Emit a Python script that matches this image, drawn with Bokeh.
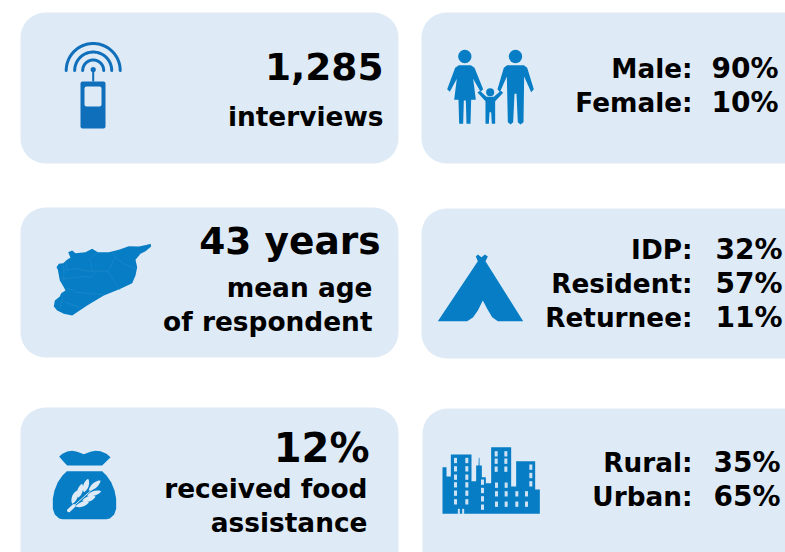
from bokeh.plotting import figure
from bokeh.embed import file_html
from bokeh.resources import INLINE
from bokeh.core.properties import value
from bokeh.models import Range1d
import numpy as np

# ---- content ----
HEADLINES = ["1,285", "43 years", "12%"]
SUBLINES = ["interviews", "mean age", "of respondent", "received food", "assistance"]
GENDER = ["Male:", "Female:"]; GENDER_PCT = ["90%", "10%"]
STATUS = ["IDP:", "Resident:", "Returnee:"]; STATUS_PCT = ["32%", "57%", "11%"]
AREA = ["Rural:", "Urban:"]; AREA_PCT = ["35%", "65%"]

PANEL = "#deeaf6"; BLUE = "#067dc4"; PHONE = "#0f6fbb"; FONT = "DejaVu Sans"; INK = "#000000"

p = figure(width=785, height=552, output_backend="svg", toolbar_location=None,
           x_range=Range1d(0, 785), y_range=Range1d(552, 0), min_border=0,
           background_fill_color="white", border_fill_color="white", outline_line_color=None)
p.xaxis.visible = False; p.yaxis.visible = False; p.grid.visible = False

def panel(l, t, r, b):
    p.quad(left=[l], right=[r], top=[t], bottom=[b], fill_color=PANEL, line_color=None, border_radius=25)

for box in [(20, 12, 398, 163), (421, 12, 812, 163), (20, 207, 398, 357),
            (421, 208, 812, 358), (20, 407, 398, 577), (422, 408, 812, 578)]:
    panel(*box)

def label(s, x, y, size):
    p.text([x], [y], text=[s], text_font=value(FONT), text_font_style="bold", text_font_size=f"{size}px",
           text_color=INK, text_align="right", text_baseline="alphabetic")

label(HEADLINES[0], 383, 66, 37.5); label(SUBLINES[0], 383, 116, 26.4)
label(HEADLINES[1], 380, 240, 37.5); label(SUBLINES[1], 372, 287, 26.4); label(SUBLINES[2], 372, 321, 26.4)
label(HEADLINES[2], 369, 447, 40); label(SUBLINES[3], 367, 488, 26.4); label(SUBLINES[4], 367, 522, 26.4)

for names, pcts, ys, px in [(GENDER, GENDER_PCT, (68, 102), 778),
                            (STATUS, STATUS_PCT, (249, 283, 317), 782),
                            (AREA, AREA_PCT, (462, 496), 780)]:
    for n, v, y in zip(names, pcts, ys):
        label(n, 692, y, 26.3); label(v, px, y, 28)

def poly(ox, oy, pts, color=BLUE):
    a = np.array(pts, dtype=float) / 3
    p.patch(ox + a[:, 0], oy + a[:, 1], fill_color=color, line_color=None)

def lines(ox, oy, pts, color, w):
    a = np.array(pts, dtype=float) / 3
    p.line(ox + a[:, 0], oy + a[:, 1], line_color=color, line_width=w, line_cap="round", line_join="round")

def lens(ox, oy, x0, y0, x1, y1, w, color):
    t = np.linspace(0, 1, 15)
    dx, dy = x1 - x0, y1 - y0
    n = np.hypot(dx, dy)
    nx, ny = -dy / n, dx / n
    hw = w / 2 * np.sin(np.pi * t) ** 0.7
    xs = np.r_[x0 + dx * t + nx * hw, (x0 + dx * t - nx * hw)[::-1]]
    ys = np.r_[y0 + dy * t + ny * hw, (y0 + dy * t - ny * hw)[::-1]]
    p.patch(ox + xs / 3, oy + ys / 3, fill_color=color, line_color=None)

# phone
p.quad(left=[80], right=[105], top=[81], bottom=[128], fill_color=PHONE, line_color=None, border_radius=2)
p.quad(left=[84], right=[101], top=[86], bottom=[106], fill_color=PANEL, line_color=None, border_radius=2)
p.segment([92.7], [69], [92.7], [81], line_color=PHONE, line_width=2)
p.circle([92.7], [69], radius=2.6, fill_color=PHONE, line_color=None)
for r in (27, 18.5, 10.5):
    th = np.linspace(np.pi, 2 * np.pi, 40)
    p.line(92.7 + r * np.cos(th), 70 + r * np.sin(th), line_color=PHONE, line_width=3, line_cap="round")

# family
for cx, cy, r in [(133, 138, 20), (285, 138, 20), (209, 245, 12)]:
    p.circle([420 + cx / 3], [10 + cy / 3], radius=r / 3, fill_color=BLUE, line_color=None)
poly(420, 10, [(115, 164), (151, 164), (162, 172), (188, 236), (180, 244), (158, 205), (166, 268), (152, 268),
               (150, 340), (138, 340), (136, 270), (130, 270), (128, 340), (116, 340), (114, 268), (101, 268),
               (109, 205), (88, 244), (80, 236), (104, 172)])
poly(420, 10, [(260, 164), (310, 164), (320, 172), (340, 236), (332, 245), (311, 198), (309, 335), (300, 342),
               (292, 335), (288, 250), (282, 250), (278, 335), (270, 342), (262, 335), (259, 198), (238, 245),
               (231, 236), (250, 172)])
poly(420, 10, [(171, 246), (178, 241), (198, 259), (220, 259), (241, 241), (248, 247), (224, 272), (224, 340),
               (214, 340), (212, 305), (207, 305), (205, 340), (195, 340), (195, 272)])

# map
poly(20, 200, [(390, 130), (392, 138), (375, 152), (360, 160), (345, 178), (350, 200), (345, 225), (335, 248),
               (300, 265), (250, 285), (200, 315), (155, 345), (130, 340), (110, 330), (100, 318), (103, 300),
               (118, 288), (122, 278), (135, 270), (130, 260), (118, 240), (112, 208), (108, 200), (115, 190),
               (128, 188), (140, 178), (150, 172), (143, 155), (155, 150), (165, 158), (195, 155), (215, 145),
               (232, 155), (265, 155), (295, 148), (325, 137), (355, 138), (380, 133)])
EDGE = "#2a8fcf"
for seg in [[(280, 165), (285, 170), (262, 212), (298, 268)], [(285, 170), (310, 190), (345, 205)],
            [(262, 212), (205, 212), (165, 205), (130, 210)], [(125, 235), (195, 228), (210, 232), (228, 215)],
            [(135, 262), (160, 270), (165, 275), (250, 283)], [(232, 155), (208, 175), (215, 210)],
            [(150, 172), (135, 182), (140, 208)], [(125, 295), (118, 325)], [(135, 305), (175, 320)],
            [(130, 195), (130, 240)]]:
    lines(20, 200, seg, EDGE, 0.5)

# tent
poly(420, 230, [(52, 272), (172, 92), (166, 78), (172, 72), (183, 80), (193, 72), (202, 78), (195, 92), (308, 272),
                (232, 272), (215, 260), (200, 235), (187, 210), (172, 240), (158, 260), (140, 272)])

# sack
poly(20, 430, [(116, 78), (126, 70), (140, 63), (155, 61), (170, 64), (190, 71), (210, 64), (225, 61), (240, 62),
               (258, 70), (270, 80), (258, 92), (245, 105), (140, 105), (128, 92)])
poly(20, 430, [(139, 122), (245, 122), (258, 135), (272, 155), (282, 180), (287, 205), (287, 235), (281, 252),
               (268, 264), (258, 266), (126, 266), (116, 264), (103, 252), (97, 235), (97, 205), (102, 180),
               (112, 155), (126, 135)])
LEAF = "#deeaf6"
lines(20, 430, [(145, 240), (160, 226)], LEAF, 3.5)
lines(20, 430, [(160, 226), (225, 168)], LEAF, 1)
for g in [(190, 185, 203, 145, 16), (205, 180, 240, 150, 16), (200, 195, 242, 182, 14), (185, 212, 225, 198, 16),
          (172, 202, 185, 160, 16), (155, 220, 170, 180, 16), (165, 228, 205, 215, 14)]:
    lens(20, 430, *g, LEAF)

# city
poly(420, 430, [(66, 250), (66, 110), (78, 110), (78, 138), (91, 138), (91, 72), (153, 72), (153, 152), (167, 152),
                (167, 105), (174, 105), (175, 82), (177, 82), (177, 105), (184, 105), (184, 140), (196, 140),
                (196, 158), (212, 158), (212, 50), (272, 50), (272, 168), (287, 168), (287, 92), (344, 92),
                (344, 177), (358, 177), (358, 250)])
WIN = "#cfe2f3"
wins = [(x, y) for x in (105, 139) for y in (90, 115, 140, 163, 188, 214)]
wins += [(186, y) for y in (155, 180, 205, 230)]
wins += [(x, y) for x in (227, 256) for y in (70, 92, 116)]
wins += [(331, y) for y in (110, 135, 160)]
wins += [(x, y) for x in (228, 257) for y in (164, 190, 221)]
wins += [(x, y) for x in (289, 318) for y in (190, 221)]
p.quad(left=[420 + (x - 4.5) / 3 for x, y in wins], right=[420 + (x + 4.5) / 3 for x, y in wins],
       top=[430 + (y - 8) / 3 for x, y in wins], bottom=[430 + (y + 8) / 3 for x, y in wins],
       fill_color=WIN, line_color=None)
p.quad(left=[420 + 112 / 3, 420 + 125 / 3], right=[420 + 118 / 3, 420 + 131 / 3],
       top=[430 + 235 / 3] * 2, bottom=[430 + 251 / 3] * 2, fill_color=WIN, line_color=None)

open("out.html", "w").write(file_html(p, INLINE))
